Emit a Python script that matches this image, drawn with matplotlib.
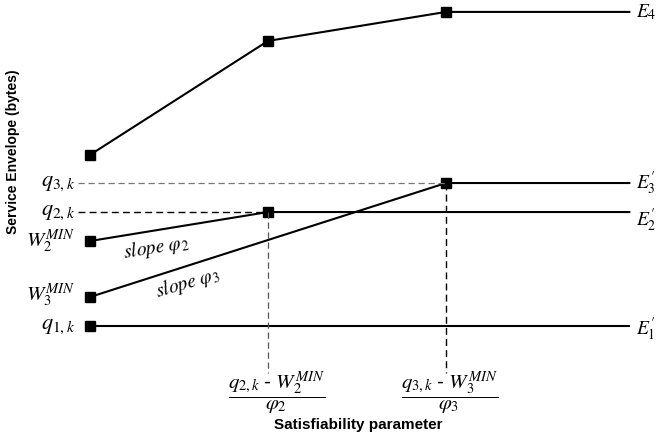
import matplotlib
matplotlib.use("Agg")
from matplotlib import pyplot as plt

plt.rcParams['mathtext.fontset'] = 'stix'

# satisfiability parameter positions (breakpoints) and end of the lines
x_pts = [0, 1, 2]
x_end = 3.03

# service envelopes
e4 = [6.9, 10.83, 11.83]
w2_min, q2k = 3.93, 4.93
w3_min, q3k = 2.0, 5.93
q1k = 1.0

fig = plt.figure(figsize=(6.59, 4.36), dpi=100)
ax = fig.add_axes([0, 0, 1, 1])
ax.set_xlim(-0.5056, 3.1966)
ax.set_ylim(-2.793, 12.241)
ax.axis('off')

lw, ms = 1.5, 7

# E4
ax.plot(x_pts + [x_end], e4 + [e4[-1]], color='black', lw=lw)
ax.plot(x_pts, e4, 's', color='black', markersize=ms)

# E3'
ax.plot([0, 2, x_end], [w3_min, q3k, q3k], color='black', lw=lw)
ax.plot([0, 2], [w3_min, q3k], 's', color='black', markersize=ms)

# E2'
ax.plot([0, 1, x_end], [w2_min, q2k, q2k], color='black', lw=lw)
ax.plot([0, 1], [w2_min, q2k], 's', color='black', markersize=ms)

# E1'
ax.plot([0, x_end], [q1k, q1k], color='black', lw=lw)
ax.plot([0], [q1k], 's', color='black', markersize=ms)

# dashed guides
x_lab = -0.07
y_bot = -0.62
ax.plot([x_lab, 2], [q3k, q3k], '--', color='#777777', lw=0.9, dashes=(5, 3))
ax.plot([x_lab, 1], [q2k, q2k], '--', color='black', lw=1.0, dashes=(5, 3))
ax.plot([1, 1], [q2k, y_bot], '--', color='#555555', lw=0.9, dashes=(5, 3))
ax.plot([2, 2], [q3k, y_bot], '--', color='black', lw=1.0, dashes=(5, 3))

# left labels
fs = 16
lx = -0.085
ax.text(lx, q3k, r'$q_{3,k}$', ha='right', va='center', fontsize=fs)
ax.text(lx, q2k, r'$q_{2,k}$', ha='right', va='center', fontsize=fs)
ax.text(lx, w2_min, r'$W_2^{MIN}$', ha='right', va='center', fontsize=fs - 1)
ax.text(lx, w3_min + 0.05, r'$W_3^{MIN}$', ha='right', va='center', fontsize=fs - 1)
ax.text(lx, q1k, r'$q_{1,k}$', ha='right', va='center', fontsize=fs)

# right labels
rx = 3.065
efs = 14
ax.text(rx, e4[-1], r'$E_4$', ha='left', va='center', fontsize=efs)
ax.text(rx, q3k, r"$E_3^{\prime}$", ha='left', va='center', fontsize=efs)
ax.text(rx, q2k - 0.3, r"$E_2^{\prime}$", ha='left', va='center', fontsize=efs)
ax.text(rx, q1k - 0.1, r"$E_1^{\prime}$", ha='left', va='center', fontsize=efs)

# slopes
ax.text(0.37, 3.72, r'$\mathit{slope}\ \varphi_2$', ha='center', va='center',
        fontsize=14, rotation=9)
ax.text(0.545, 2.48, r'$\mathit{slope}\ \varphi_3$', ha='center', va='center',
        fontsize=14, rotation=16)

# fractions under the breakpoints
hy = '\u2010'
ax.text(1.05, -1.32, r'$\dfrac{q_{2,k}\ ' + hy + r'\ W_2^{MIN}}{\varphi_2}$',
        ha='center', va='center', fontsize=15)
ax.text(2.02, -1.32, r'$\dfrac{q_{3,k}\ ' + hy + r'\ W_3^{MIN}}{\varphi_3}$',
        ha='center', va='center', fontsize=15)

# axis titles
ax.text(1.506, -2.43, 'Satisfiability parameter', ha='center', va='center',
        fontsize=11, fontweight='bold', family='Liberation Sans')
ax.text(-0.433, 7.0, 'Service Envelope (bytes)', ha='center', va='center',
        fontsize=10, fontweight='bold', family='Liberation Sans', rotation=90)

fig.savefig('out.png', dpi=100)
